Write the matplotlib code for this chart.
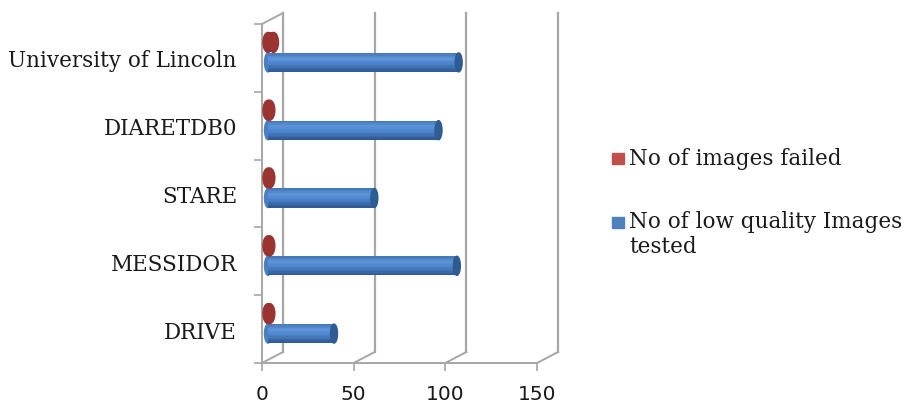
import matplotlib
matplotlib.use("Agg")
import numpy as np
import matplotlib.pyplot as plt
from matplotlib.patches import Ellipse, Rectangle
from matplotlib.lines import Line2D
from matplotlib.colors import to_rgb
from matplotlib.transforms import ScaledTranslation, IdentityTransform

# ---------------------------------------------------------
# data
# ---------------------------------------------------------
datasets = ["DRIVE", "MESSIDOR", "STARE", "DIARETDB0", "University of Lincoln"]
tested = [36, 103, 58, 93, 104]
failed = [1, 1, 1, 1, 3]
x_ticks = [0, 50, 100, 150]
legend_labels = ["No of images failed", "No of low quality Images\ntested"]

# ---------------------------------------------------------
# style
# ---------------------------------------------------------
DPI = 100
W, H = 909, 406
GRID = "#A6A6A6"
TEXT = "#1a1a1a"
SERIF = "DejaVu Serif"
DEPTH = (21, 11)       # px offset of the back wall (pseudo 3D)
BAR_SHIFT = 6          # px the cylinders sit behind the front plane

fig = plt.figure(figsize=(W / DPI, H / DPI), dpi=DPI)
ax = fig.add_axes([262 / W, (H - 364) / H, 275 / W, 339 / H])
ax.set_xlim(0, 150)
ax.set_ylim(0, len(datasets))
ax.patch.set_visible(False)

px_per_unit = 275 / 150
slot_px = 339 / len(datasets)


def to_px(x, y, d=0.0):
    X, Y = ax.transData.transform((x, y))
    return X + DEPTH[0] * d, Y + DEPTH[1] * d


def px_line(p0, p1, **kw):
    fig.add_artist(Line2D([p0[0], p1[0]], [p0[1], p1[1]],
                          transform=IdentityTransform(), **kw))


# ---------------------------------------------------------
# pseudo 3D frame: back wall gridlines + floor
# ---------------------------------------------------------
top = len(datasets)
for v in x_ticks:
    px_line(to_px(v, 0, 1), to_px(v, top, 1), color=GRID, lw=1.6, zorder=0)
    px_line(to_px(v, 0, 0), to_px(v, 0, 1), color=GRID, lw=1.4, zorder=0)
px_line(to_px(0, 0), to_px(150, 0), color=GRID, lw=1.4, zorder=0)
px_line(to_px(0, 0), to_px(0, top), color=GRID, lw=1.4, zorder=0)
px_line(to_px(0, top), to_px(0, top, 1), color=GRID, lw=1.4, zorder=0)

# ---------------------------------------------------------
# cylinders (shaded with thin stacked slices)
# ---------------------------------------------------------
shift = ax.transData + ScaledTranslation(BAR_SHIFT / DPI, 0, fig.dpi_scale_trans)
pos = np.arange(len(datasets)) + 0.5
blue_y = pos - 4.5 / slot_px
red_y = pos + 15.5 / slot_px
bar_h = 19 / slot_px


def shade(stops, t):
    # stops: list of (t, colour), t=0 top edge, t=1 bottom edge
    ts = [s[0] for s in stops]
    cols = np.array([to_rgb(s[1]) for s in stops])
    return tuple(np.interp(t, ts, cols[:, i]) for i in range(3))


def cylinder(ys, vals, h, cap_px, stops, cap, start, n=14):
    capw = cap_px / px_per_unit
    for yv in ys:
        ax.add_patch(Ellipse((0, yv), capw, h, color=start, transform=shift, zorder=2))
    for k in range(n):
        t = (k + 0.5) / n
        yk = ys + h / 2 - (k + 0.5) * h / n
        ax.barh(yk, vals, height=h / n * 1.05, color=shade(stops, t),
                transform=shift, zorder=3, linewidth=0)
    for yv, v in zip(ys, vals):
        ax.add_patch(Ellipse((v, yv), capw, h, color=cap, transform=shift, zorder=4))


blue_stops = [(0, "#4474B4"), (0.3, "#5E96DA"), (0.6, "#4A80C6"), (1, "#2C568E")]
red_stops = [(0, "#9A3533"), (0.3, "#A93E3B"), (0.6, "#9C3835"), (1, "#85302D")]
cylinder(blue_y, tested, bar_h, 7, blue_stops, "#2D5B93", "#4A7FC4")
cylinder(red_y, failed, 20 / slot_px, 10, red_stops, "#993431", "#993431")

# ---------------------------------------------------------
# axes, ticks, labels
# ---------------------------------------------------------
for s in ax.spines.values():
    s.set_visible(False)

ax.set_xticks(x_ticks)
ax.set_xticklabels([str(t) for t in x_ticks], fontsize=14.5, color=TEXT,
                   family="DejaVu Sans")
ax.tick_params(axis="x", direction="out", length=6, width=1.2, color=GRID, pad=9)

ax.set_yticks(pos)
ax.set_yticklabels(datasets, fontsize=15.5, family=SERIF, color=TEXT)
ax.set_yticks(np.arange(len(datasets) + 1), minor=True)
ax.tick_params(axis="y", which="major", length=0, pad=18)
ax.tick_params(axis="y", which="minor", direction="out", length=6, width=1.2, color=GRID)

# ---------------------------------------------------------
# legend
# ---------------------------------------------------------
leg_items = [("#C0504D", 159), ("#4F81BD", 223)]
for (col, yc), lab in zip(leg_items, legend_labels):
    fig.add_artist(Rectangle((612 / W, (H - yc - 6) / H), 12 / W, 11 / H,
                             transform=fig.transFigure, color=col))
    multi = "\n" in lab
    fig.text(629 / W, (H - yc + (12 if multi else 0)) / H, lab, fontsize=15.5,
             family=SERIF, color=TEXT, va="top" if multi else "center",
             ha="left", linespacing=1.15)

fig.savefig("out.png", dpi=DPI)
